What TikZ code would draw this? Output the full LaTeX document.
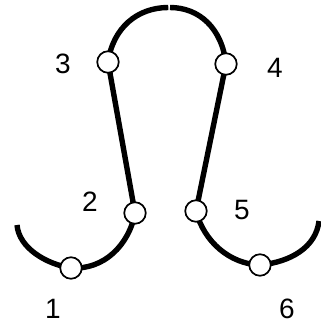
\documentclass[tikz,border=0pt]{standalone}
\usepackage{fontspec}
\setmainfont{Liberation Sans}
\tikzset{
  wire/.style={line width=5.4pt,line cap=butt},
  joint/.style={circle,draw,line width=1.7pt,fill=white,minimum size=21.5pt,inner sep=0pt},
  lab/.style={font=\fontsize{28}{28}\selectfont,inner sep=0pt}
}
\begin{document}
\begin{tikzpicture}[x=1pt,y=-1pt]
\useasboundingbox (0,0) rectangle (321,325);
\coordinate (endl) at (17,225);
\coordinate (endr) at (319,221);
\coordinate (topl) at (168.3,7.5);
\coordinate (topr) at (170,7.5);
\coordinate (p1) at (71,268);
\coordinate (p2) at (135,213);
\coordinate (p3) at (108,62);
\coordinate (p4) at (226,64);
\coordinate (p5) at (196,211);
\coordinate (p6) at (260,265);
\draw[wire] (endl) .. controls (19,248) and (46,264) .. (p1);
\draw[wire] (p1) .. controls (104,270) and (129,245) .. (p2);
\draw[wire] (p2) -- (p3);
\draw[wire] (p3) .. controls (113,28) and (137,7.5) .. (topl);
\draw[wire] (topr) .. controls (199,7.5) and (222,28) .. (p4);
\draw[wire] (p4) -- (p5);
\draw[wire] (p5) .. controls (204,242) and (230,264) .. (p6);
\draw[wire] (p6) .. controls (291,262) and (316,247) .. (endr);
\node[joint] (n1) at (p1) {};
\node[joint] (n2) at (p2) {};
\node[joint] (n3) at (p3) {};
\node[joint] (n4) at (p4) {};
\node[joint] (n5) at (p5) {};
\node[joint] (n6) at (p6) {};
\node[lab] (l1) at (53,309) {1};
\node[lab] (l2) at (90,202) {2};
\node[lab] (l3) at (63,64) {3};
\node[lab] (l4) at (275,68) {4};
\node[lab] (l5) at (242,210) {5};
\node[lab] (l6) at (287,309) {6};
\end{tikzpicture}
\end{document}
